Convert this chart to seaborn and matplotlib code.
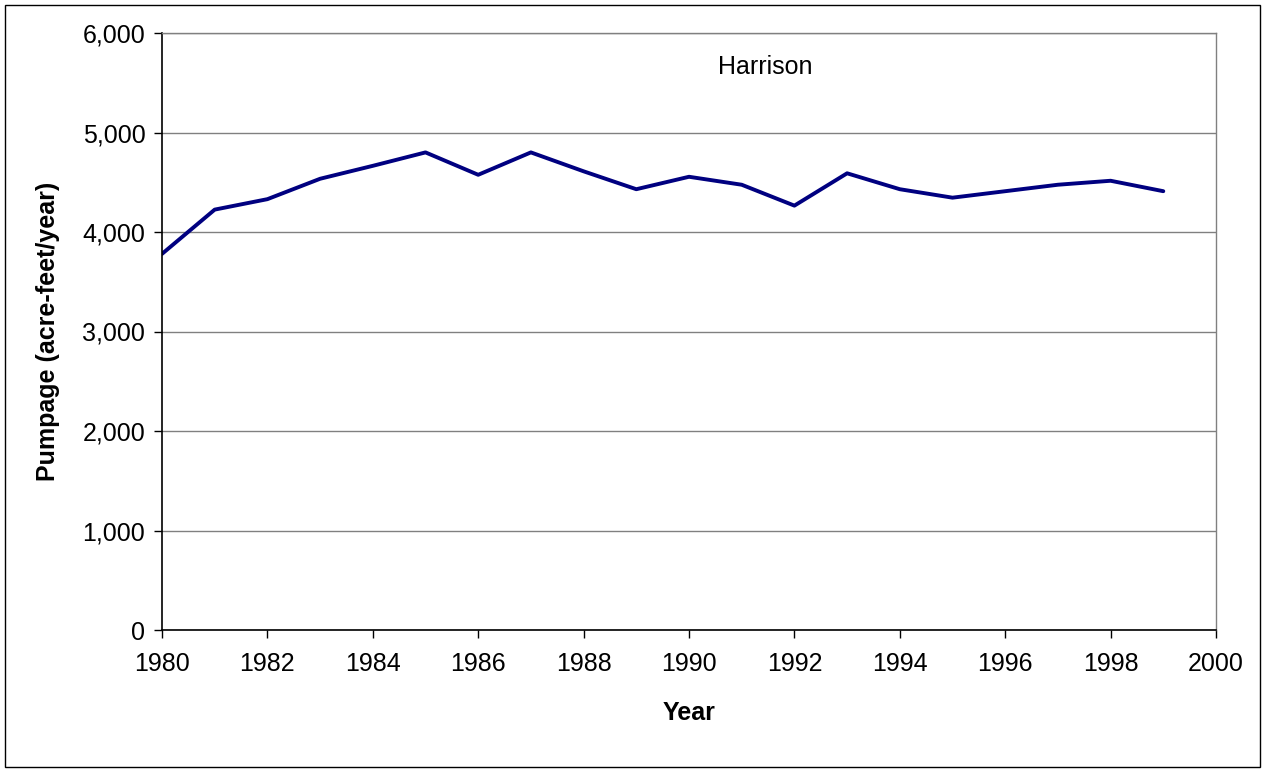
import pandas as pd
import seaborn as sns
import matplotlib.pyplot as plt
from matplotlib.ticker import FuncFormatter, MultipleLocator
from matplotlib.patches import Rectangle

# data
years = list(range(1980, 2000))
pumpage = [3780, 4225, 4330, 4535, 4665, 4800, 4575, 4800, 4610, 4430,
           4555, 4475, 4265, 4590, 4430, 4345, 4410, 4475, 4515, 4410]
site = "Harrison"

df = pd.DataFrame({"Year": years, "Pumpage": pumpage})

sns.set_theme(style="white")
plt.rcParams['font.family'] = ['Liberation Sans', 'DejaVu Sans']
plt.rcParams['text.color'] = 'black'
plt.rcParams['axes.labelcolor'] = 'black'

fig = plt.figure(figsize=(12.65, 7.72), dpi=100)
ax = fig.add_axes([162 / 1265, 1 - 630 / 772, (1216 - 162) / 1265, (630 - 33) / 772])

sns.lineplot(data=df, x="Year", y="Pumpage", color="#000080", linewidth=2.8, ax=ax)

ax.set_xlim(1980, 2000)
ax.set_ylim(0, 6000)
ax.xaxis.set_major_locator(MultipleLocator(2))
ax.yaxis.set_major_locator(MultipleLocator(1000))
ax.yaxis.set_major_formatter(FuncFormatter(lambda v, p: f"{int(v):,}"))

ax.grid(axis="y", color="#808080", linewidth=1)
ax.set_axisbelow(True)
for side in ["top", "right"]:
    ax.spines[side].set_color("#808080")
    ax.spines[side].set_linewidth(1)
for side in ["left", "bottom"]:
    ax.spines[side].set_color("black")
    ax.spines[side].set_linewidth(1.2)

ax.tick_params(axis="both", which="major", direction="out", length=6, width=1,
               color="black", labelsize=18, labelcolor="black", bottom=True, left=True)
ax.tick_params(axis="x", pad=10)
ax.tick_params(axis="y", pad=6)

ax.set_xlabel("Year", fontsize=18, fontweight="bold", labelpad=18)
ax.set_ylabel("Pumpage (acre-feet/year)", fontsize=18, fontweight="bold", labelpad=16)

ax.text(0.572, 0.943, site, transform=ax.transAxes, ha="center", va="center",
        fontsize=18, color="black")

# outer frame around the whole chart
fig.patches.append(Rectangle((5 / 1265, 5 / 772), 1 - 10 / 1265, 1 - 10 / 772,
                             transform=fig.transFigure, fill=False,
                             edgecolor="black", linewidth=1))

fig.savefig("out.png", dpi=100)
